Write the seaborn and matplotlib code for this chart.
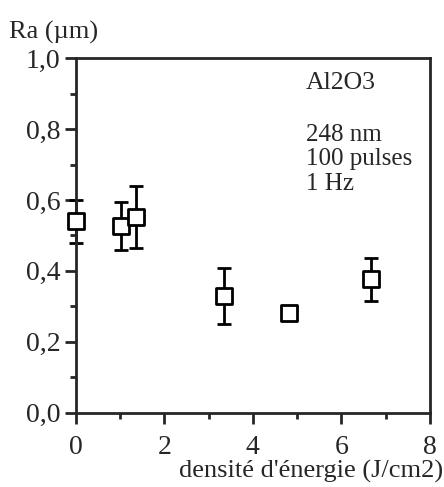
import matplotlib

matplotlib.use("Agg")  # headless backend
import matplotlib.pyplot as plt  # noqa: E402
import seaborn as sns  # noqa: E402
import pandas as pd  # noqa: E402
from matplotlib.ticker import MultipleLocator  # noqa: E402

# energy density (J/cm2), roughness Ra (um), error half-width
energy = [0.0, 1.03, 1.35, 3.34, 4.81, 6.68]
ra = [0.54, 0.527, 0.551, 0.329, 0.282, 0.376]
ra_err = [0.06, 0.068, 0.087, 0.078, 0.0, 0.061]

sns.set_style("ticks")
plt.rcParams["font.family"] = ["Liberation Serif", "DejaVu Serif"]

df = pd.DataFrame({"energy": energy, "ra": ra, "err": ra_err})

fig = plt.figure(figsize=(4.44, 4.87), dpi=100)
ax = fig.add_axes([0.171, 0.1526, 0.797, 0.728])

eb = ax.errorbar(df["energy"], df["ra"], yerr=df["err"], fmt="none",
                 ecolor="black", elinewidth=2, capsize=5, capthick=2, zorder=2)
for art in eb.lines[1] + eb.lines[2]:
    art.set_clip_on(False)
sns.scatterplot(data=df, x="energy", y="ra", marker="s", s=130,
                facecolor="white", edgecolor="black", linewidth=2,
                ax=ax, zorder=3, clip_on=False)

ax.set_xlim(0, 8)
ax.set_ylim(0, 1.0)
ax.xaxis.set_major_locator(MultipleLocator(2))
ax.xaxis.set_minor_locator(MultipleLocator(1))
ax.yaxis.set_major_locator(MultipleLocator(0.2))
ax.yaxis.set_minor_locator(MultipleLocator(0.1))
yt = [0.0, 0.2, 0.4, 0.6, 0.8, 1.0]
ax.set_yticks(yt)
ax.set_yticklabels([f"{v:.1f}".replace(".", ",") for v in yt])
ax.tick_params(which="major", length=8, width=2, labelsize=20, direction="out")
ax.tick_params(axis="x", which="major", pad=8)
ax.tick_params(axis="y", which="major", pad=3)
ax.tick_params(which="minor", length=4, width=2, direction="out")

for s in ax.spines.values():
    s.set_visible(True)
    s.set_linewidth(2)

ax.set_xlabel("")
ax.set_ylabel("")
fig.text(0.997, 0.008, "densité d'énergie (J/cm2)", ha="right", va="bottom", fontsize=19)
fig.text(0.02, 0.91, "Ra (µm)", ha="left", va="bottom", fontsize=19)

ax.text(0.65, 0.96, "Al2O3", transform=ax.transAxes, ha="left", va="top", fontsize=18.5)
ax.text(0.65, 0.815, "248 nm\n100 pulses\n1 Hz", transform=ax.transAxes,
        ha="left", va="top", fontsize=18, linespacing=1.15)

fig.savefig("out.png", dpi=100)
plt.close(fig)
